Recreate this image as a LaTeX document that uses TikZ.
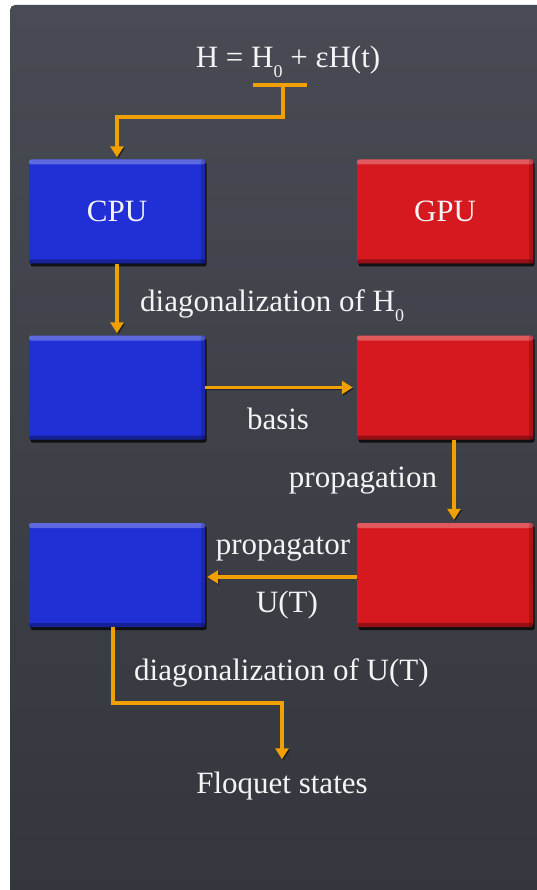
\documentclass[tikz,border=0pt]{standalone}
\usepackage{fontspec}
\setmainfont{Liberation Serif}
\newfontfamily\tms{Liberation Serif}
\usetikzlibrary{arrows.meta,shadows}
\definecolor{panelTop}{HTML}{484B53}
\definecolor{panelBot}{HTML}{34363D}
\definecolor{cpublue}{HTML}{2030D6}
\definecolor{gpured}{HTML}{D6181F}
\definecolor{arrorange}{HTML}{F0A000}
\definecolor{txtwhite}{HTML}{F4F4F4}
\begin{document}
\begin{tikzpicture}[x=1pt,y=-1pt,
  box/.style={minimum width=176pt, minimum height=104pt, inner sep=0pt,
    rounded corners=2pt, text=txtwhite, font=\tms\fontsize{31}{37}\selectfont,
    drop shadow={shadow xshift=1.5pt, shadow yshift=-3pt, opacity=.75, fill=black},
    path picture={
      \fill[white,opacity=.28] (path picture bounding box.north west) rectangle ([yshift=-5pt]path picture bounding box.north east);
      \fill[black,opacity=.30] ([yshift=4pt]path picture bounding box.south west) rectangle (path picture bounding box.south east);
      \fill[black,opacity=.18] ([xshift=-4pt]path picture bounding box.north east) rectangle (path picture bounding box.south east);
    }},
  cpubox/.style={box, fill=cpublue},
  gpubox/.style={box, fill=gpured},
  lbl/.style={text=txtwhite, font=\tms\fontsize{31}{37}\selectfont, inner sep=0pt},
  wire/.style={draw=arrorange, line width=3.6pt,
    preaction={draw=black, opacity=.45, transform canvas={shift={(1.2pt,-1.4pt)}}}},
  arr/.style={wire, -{Triangle[width=13pt,length=11pt]}}
]
\useasboundingbox (0,0) rectangle (537,890);
\fill[white] (0,0) rectangle (537,890);
\shade[top color=panelTop, bottom color=panelBot, rounded corners=5pt]
  (10,5) rectangle (545,900);

% title
\node[lbl, anchor=base] (t) at (288,68)
  {H = H\raisebox{-10pt}{\fontsize{18}{18}\selectfont 0} + εH(t)};

% boxes
\node[cpubox] (cpu) at (117,211.5) {CPU};
\node[gpubox] (gpu) at (445,211.5) {GPU};
\node[cpubox] (b2) at (117,387.5) {};
\node[gpubox] (r2) at (445,387.5) {};
\node[cpubox] (b3) at (117,575) {};
\node[gpubox] (r3) at (445,575) {};

% labels
\node[lbl, anchor=base west] (l1) at (140,311)
  {diagonalization of H\raisebox{-10pt}{\fontsize{18}{18}\selectfont 0}};
\node[lbl, anchor=base] (l2) at (278,429) {basis};
\node[lbl, anchor=base] (l3) at (363,487) {propagation};
\node[lbl, anchor=base] (l4) at (283,554) {propagator};
\node[lbl, anchor=base] (l5) at (287,612) {U(T)};
\node[lbl, anchor=base west] (l6) at (134,680) {diagonalization of U(T)};
\node[lbl, anchor=base] (f) at (282,793) {Floquet states};

% connectors
\coordinate (tbl) at (253,85);
\coordinate (tbr) at (307,85);
\coordinate (tbj) at (283,85);
\draw[wire] (tbl) -- (tbr);
\draw[arr, shorten >=2pt] (tbj) -- ++(0,32) -| (cpu.north);
\draw[arr, shorten >=2pt] (cpu.south) -- (b2.north);
\draw[arr, shorten >=4pt] (b2.east) -- (r2.west);
\draw[arr, shorten >=3pt] ([xshift=9pt]r2.south) -- ([xshift=9pt]r3.north);
\draw[arr, shorten >=2pt] ([yshift=-2pt]r3.west) -- ([yshift=-2pt]b3.east);
\draw[arr] ([xshift=-4pt]b3.south) -- ++(0,76) -| ([yshift=12pt]f.north);
\end{tikzpicture}
\end{document}
